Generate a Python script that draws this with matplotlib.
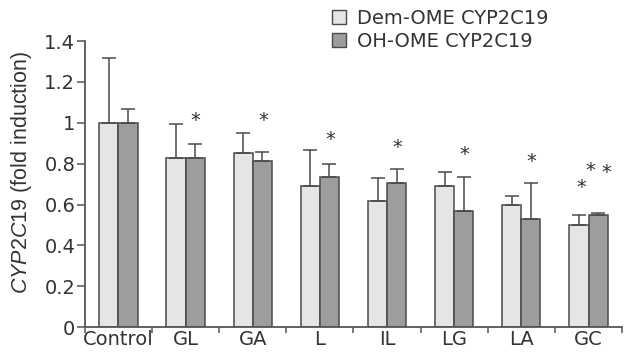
import numpy as np
import matplotlib
matplotlib.use('Agg')
import matplotlib.pyplot as plt
from matplotlib.patches import Patch

plt.rcParams['font.family'] = ['DejaVu Sans']
plt.rcParams['mathtext.fontset'] = 'custom'
plt.rcParams['mathtext.it'] = 'Liberation Sans:italic'
plt.rcParams['mathtext.rm'] = 'Liberation Sans'

# data
groups = ['Control', 'GL', 'GA', 'L', 'IL', 'LG', 'LA', 'GC']
dem_ome = [1.00, 0.83, 0.85, 0.69, 0.615, 0.69, 0.60, 0.50]
dem_err = [0.315, 0.165, 0.10, 0.175, 0.113, 0.068, 0.041, 0.05]
oh_ome = [1.00, 0.83, 0.815, 0.735, 0.705, 0.568, 0.53, 0.547]
oh_err = [0.068, 0.066, 0.043, 0.064, 0.067, 0.166, 0.173, 0.01]
# significance stars: (group index, x offset, height)
stars = [(1, 0.15, 1.01), (2, 0.15, 1.01), (3, 0.15, 0.92), (4, 0.15, 0.88),
         (5, 0.15, 0.845), (6, 0.15, 0.81), (7, -0.1, 0.685),
         (7, 0.03, 0.765), (7, 0.27, 0.755)]

light = '#e5e5e7'
dark = '#9d9d9f'
edge = '#4a4a4a'
txt = '#333333'

x = np.arange(len(groups))
w = 0.285

fig = plt.figure(figsize=(6.29, 3.54), dpi=100)
ax = fig.add_axes([0.135, 0.076, 0.854, 0.808])

ax.bar(x - w/2, dem_ome, w, color=light, edgecolor=edge, linewidth=1.1,
       yerr=[np.zeros(len(x)), dem_err], ecolor=edge,
       error_kw=dict(elinewidth=1.1, capsize=5, capthick=1.1), zorder=2)
ax.bar(x + w/2, oh_ome, w, color=dark, edgecolor=edge, linewidth=1.1,
       yerr=[np.zeros(len(x)), oh_err], ecolor=edge,
       error_kw=dict(elinewidth=1.1, capsize=5, capthick=1.1), zorder=2)

for g, dx, h in stars:
    ax.text(g + dx, h, '*', ha='center', va='center', fontsize=14, color=txt)

ax.set_xlim(-0.5, 7.5)
ax.set_ylim(0, 1.4)
ax.set_yticks(np.arange(0, 1.41, 0.2))
ax.set_yticklabels(['0', '0.2', '0.4', '0.6', '0.8', '1', '1.2', '1.4'])
ax.set_xticks(x)
ax.set_xticklabels(groups)
ax.set_xticks(np.arange(-0.5, 7.6, 1), minor=True)
ax.tick_params(axis='x', which='major', length=0, labelsize=14, colors=txt, pad=2)
ax.tick_params(axis='x', which='minor', length=4, width=1.1, color='#555555')
ax.tick_params(axis='y', length=6, width=1.1, color='#555555', labelsize=14,
               labelcolor=txt, pad=1)
for s in ['top', 'right']:
    ax.spines[s].set_visible(False)
for s in ['left', 'bottom']:
    ax.spines[s].set_color('#555555')
    ax.spines[s].set_linewidth(1.3)

ax.set_ylabel(r'$\mathit{CYP2C19}$ (fold induction)', fontsize=15.5, color=txt,
              family='Liberation Sans')
ax.yaxis.set_label_coords(-0.095, 0.54)

handles = [Patch(facecolor=light, edgecolor=edge, label='Dem-OME CYP2C19'),
           Patch(facecolor=dark, edgecolor=edge, label='OH-OME CYP2C19')]
fig.legend(handles=handles, loc='upper left', bbox_to_anchor=(0.5, 1.025),
           frameon=False, fontsize=14, handlelength=0.7, handleheight=0.75,
           handletextpad=0.6, labelspacing=0.2, labelcolor=txt)

fig.savefig('out.png', dpi=100)
